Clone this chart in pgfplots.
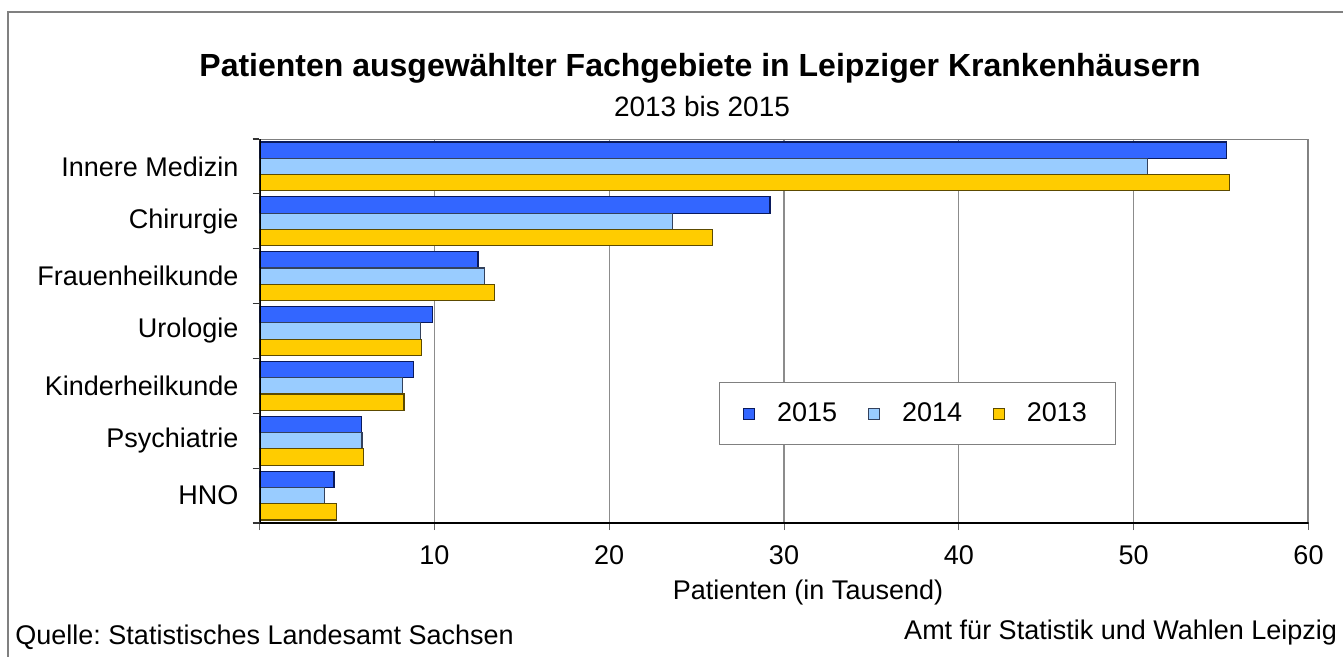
\documentclass[border=0pt]{standalone}
\usepackage{pgfplots}
\pgfplotsset{compat=1.18}
\usepackage{fontspec}
\setmainfont{Liberation Sans}
\frenchspacing
\definecolor{c15}{HTML}{3366FF}
\definecolor{c14}{HTML}{99CCFF}
\definecolor{c13}{HTML}{FFCC00}
\definecolor{d15}{HTML}{0A1A5C}
\definecolor{d14}{HTML}{33415C}
\definecolor{d13}{HTML}{5C4A00}
\pgfplotstableread{
cat v15 v14 v13
0 55.3 50.8 55.5
1 29.2 23.6 25.9
2 12.5 12.85 13.45
3 9.9 9.2 9.27
4 8.8 8.2 8.26
5 5.82 5.86 5.93
6 4.26 3.70 4.41
}\datatable
\begin{document}
\begin{tikzpicture}
\useasboundingbox (0pt,0pt) rectangle (671.5pt,-328.5pt);
\draw[black!50, line width=1pt] (671.5pt,-6pt) -- (4pt,-6pt) -- (4pt,-328.5pt);
\node[font=\fontsize{16}{19}\selectfont\bfseries] at (350pt,-34pt) {Patienten ausgewählter Fachgebiete in Leipziger Krankenhäusern};
\node[font=\fontsize{14}{17}\selectfont] at (351pt,-53pt) {2013 bis 2015};
\begin{axis}[
  at={(129.75pt,-261.5pt)}, anchor=south west,
  scale only axis, width=524.5pt, height=192pt,
  xmin=0, xmax=60, ymin=-0.5, ymax=6.5, y dir=reverse,
  xbar, bar width=0.297,
  xtick={0,10,...,60}, xticklabels={,10,20,30,40,50,60},
  ytick={0,...,6},
  yticklabels={Innere Medizin,Chirurgie,Frauenheilkunde,Urologie,Kinderheilkunde,Psychiatrie,HNO},
  minor ytick={-0.5,0.5,...,6.5},
  xtick pos=bottom, ytick pos=left,
  major y tick style={draw=none},
  minor y tick style={black!80, line width=0.6pt},
  major x tick style={black!60, line width=0.5pt},
  tick align=outside, major tick length=3.5pt, minor tick length=3.5pt,
  xmajorgrids, major grid style={black!45, line width=0.6pt},
  axis line style={draw=none},
  tick label style={font=\fontsize{13.5}{16}\selectfont},
  yticklabel style={xshift=-3.5pt},
  xticklabel style={yshift=-4.2pt},
  /pgf/number format/assume math mode=true,
  legend style={at={(0.438,0.285)}, anchor=west, legend columns=3,
    draw=black!50, fill=white, font=\fontsize{13.5}{16}\selectfont,
    inner xsep=12pt, inner ysep=8pt,
    nodes={inner sep=2pt},
    /tikz/every odd column/.append style={column sep=9pt},
    /tikz/every even column/.append style={column sep=13.5pt}},
]
\addplot[fill=c15, draw=d15, line width=0.6pt, bar shift=-0.297,
  legend image code/.code={\draw[fill=c15,draw=d15,line width=0.4pt] (0pt,-2.75pt) rectangle (5.5pt,2.75pt);}]
  table[x=v15, y=cat] {\datatable};
\addplot[fill=c14, draw=d14, line width=0.6pt, bar shift=0,
  legend image code/.code={\draw[fill=c14,draw=d14,line width=0.4pt] (0pt,-2.75pt) rectangle (5.5pt,2.75pt);}]
  table[x=v14, y=cat] {\datatable};
\addplot[fill=c13, draw=d13, line width=0.6pt, bar shift=0.297,
  legend image code/.code={\draw[fill=c13,draw=d13,line width=0.4pt] (0pt,-2.75pt) rectangle (5.5pt,2.75pt);}]
  table[x=v13, y=cat] {\datatable};
\legend{2015,2014,2013}
\draw[black!50, line width=1.4pt] (axis description cs:0,1) -- (axis description cs:1,1) -- (axis description cs:1,0);
\draw[black, line width=1pt] (axis description cs:0,1) -- (axis description cs:0,0) -- (axis description cs:1,0);
\end{axis}
\node[font=\fontsize{13.5}{16}\selectfont] at (404pt,-296.5pt) {Patienten (in Tausend)};
\node[font=\fontsize{13.5}{16}\selectfont, anchor=west] at (4.2pt,-318.5pt) {Quelle: Statistisches Landesamt Sachsen};
\node[font=\fontsize{13.5}{16}\selectfont, anchor=east] at (672pt,-316.5pt) {Amt für Statistik und Wahlen Leipzig};
\end{tikzpicture}
\end{document}
